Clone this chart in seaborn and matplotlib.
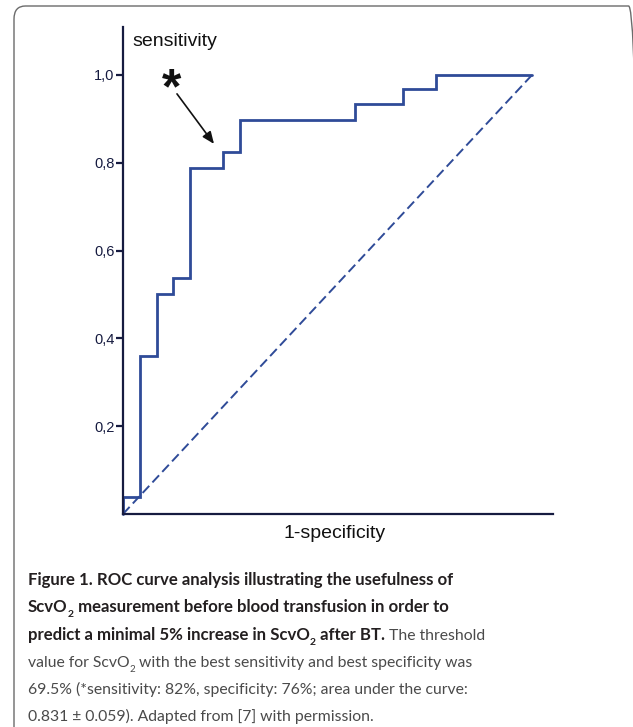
import matplotlib
matplotlib.use("Agg")
import matplotlib.pyplot as plt
import seaborn as sns
import numpy as np
from matplotlib.patches import FancyBboxPatch

# ---- data ----
fpr = [0.0, 0.0, 0.042, 0.083, 0.122, 0.164, 0.244, 0.286, 0.567, 0.685, 0.765, 1.0]
tpr = [0.0, 0.039, 0.360, 0.501, 0.538, 0.788, 0.825, 0.897, 0.934, 0.968, 1.0, 1.0]
diag_x = [0.0, 1.0]
diag_y = [0.0, 1.0]
ytick_vals = [0.2, 0.4, 0.6, 0.8, 1.0]
ytick_labels = ["0,2", "0,4", "0,6", "0,8", "1,0"]
best_point = (0.2225, 0.843)

W, H = 633, 727
sns.set_theme(style="white")
plt.rcParams['font.family'] = ['Liberation Sans', 'DejaVu Sans']

fig = plt.figure(figsize=(W / 100, H / 100), dpi=100)
fig.patch.set_facecolor("white")

def fx(px):
    return px / W

def fy(py):
    return 1 - py / H

# border box (cut off on right and bottom)
box = FancyBboxPatch((fx(14), fy(760)), fx(640) - fx(14), fy(6) - fy(760),
                     boxstyle="round,pad=0,rounding_size=0.018",
                     transform=fig.transFigure, facecolor="none",
                     edgecolor="#6b6b6b", linewidth=1.0, clip_on=False)
fig.patches.append(box)

# axes: x0 at px 123, x1 at 532 ; y0 at 514, y1 at 75
x0px, x1px = 123, 532
y0px, y1px = 514, 75
xmaxpx, ytoppx = 553, 27
xmax = (xmaxpx - x0px) / (x1px - x0px)
ymax = (y0px - ytoppx) / (y0px - y1px)
ax = fig.add_axes([fx(x0px), fy(y0px), fx(xmaxpx) - fx(x0px), fy(ytoppx) - fy(y0px)])
ax.set_xlim(0, xmax)
ax.set_ylim(0, ymax)
ax.set_facecolor("none")

curve_col = "#2f4b98"
spine_col = "#161b40"

sns.lineplot(x=fpr, y=tpr, ax=ax, estimator=None, sort=False,
             drawstyle="steps-post", color=curve_col, linewidth=2.0,
             solid_joinstyle="miter", clip_on=False)
sns.lineplot(x=diag_x, y=diag_y, ax=ax, estimator=None, sort=False,
             color=curve_col, linewidth=1.4, dashes=False, clip_on=False)
ax.lines[-1].set_linestyle((0, (5.0, 2.4)))

for side in ["top", "right"]:
    ax.spines[side].set_visible(False)
for side in ["left", "bottom"]:
    ax.spines[side].set_color(spine_col)
    ax.spines[side].set_linewidth(1.6)

ax.set_xticks([])
ax.set_yticks(ytick_vals)
ax.set_yticklabels(ytick_labels)
ax.tick_params(axis="y", left=True, length=5, width=1.6, color=spine_col,
               labelsize=10.5, labelcolor=spine_col, pad=1)
ax.grid(False)

ax.text((132 - x0px) / (x1px - x0px), (y0px - 42) / (y0px - y1px), "sensitivity",
        fontsize=14, color="#111111", ha="left", va="center")
ax.text((335 - x0px) / (x1px - x0px), -(533 - y0px) / (y0px - y1px), "1-specificity",
        fontsize=14, color="#111111", ha="center", va="center", clip_on=False)

# asterisk and arrow
ax.text(0.12, 0.965, "*", fontsize=36, fontweight="bold", color="#111111",
        ha="center", va="center")
ax.annotate("", xy=best_point, xytext=(0.132, 0.957),
            arrowprops=dict(arrowstyle="-|>,head_length=0.6,head_width=0.25",
                            color="#111111", lw=1.2, shrinkA=0, shrinkB=0))

# ---- caption ----
fig.canvas.draw()
renderer = fig.canvas.get_renderer()
cap_font = ['Lato', 'DejaVu Sans']
bold_size = 12.1
reg_size = 11.3
bold_col = "#231f20"
reg_col = "#4a4a4a"

def text_width(s, size, weight):
    t1 = fig.text(0, 0, "x" + s + "x", fontsize=size, fontweight=weight, family=cap_font)
    t2 = fig.text(0, 0, "xx", fontsize=size, fontweight=weight, family=cap_font)
    w = t1.get_window_extent(renderer).width - t2.get_window_extent(renderer).width
    t1.remove(); t2.remove()
    return w

def draw_runs(xpx, basepx, runs):
    cur = xpx
    for s, bold, sub in runs:
        weight = "bold" if bold else "normal"
        col = bold_col if bold else reg_col
        base = bold_size if bold else reg_size
        size = base * 0.62 if sub else base
        yb = basepx + (5 if sub else 0)
        fig.text(fx(cur), fy(yb), s, fontsize=size, fontweight=weight,
                 family=cap_font, color=col, ha="left", va="baseline")
        cur += text_width(s, size, weight)

lines = [
    [("Figure 1. ROC curve analysis illustrating the usefulness of", True, False)],
    [("ScvO", True, False), ("2", True, True), (" measurement before blood transfusion in order to", True, False)],
    [("predict a minimal 5% increase in ScvO", True, False), ("2", True, True), (" after BT.", True, False),
     (" The threshold", False, False)],
    [("value for ScvO", False, False), ("2", False, True),
     (" with the best sensitivity and best specificity was", False, False)],
    [("69.5% (*sensitivity: 82%, specificity: 76%; area under the curve:", False, False)],
    [("0.831 \u00b1 0.059). Adapted from [7] with permission.", False, False)],
]
baselines = [585, 612.3, 639.6, 666.9, 694.2, 721.5]
for runs, b in zip(lines, baselines):
    draw_runs(28, b, runs)

fig.savefig("out.png", dpi=100, facecolor="white")
